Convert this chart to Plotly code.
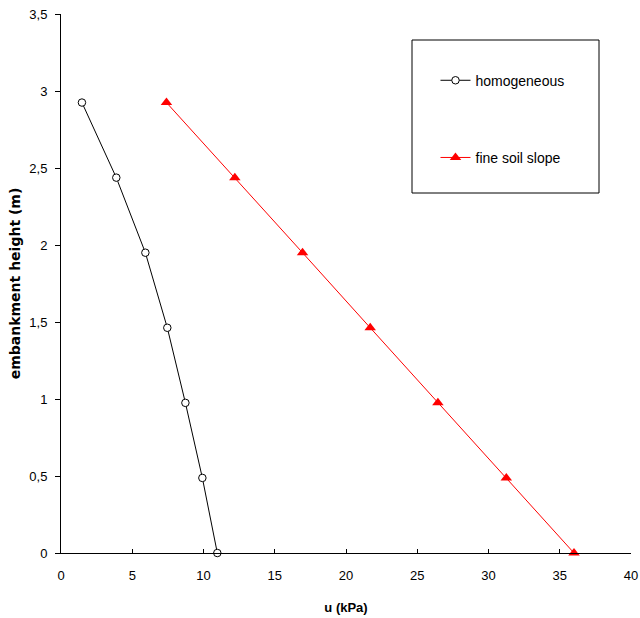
import plotly.graph_objects as go

height_m = [2.925, 2.4375, 1.95, 1.4625, 0.975, 0.4875, 0.0]
u_homogeneous = [1.47, 3.88, 5.92, 7.46, 8.73, 9.92, 10.97]
u_fine_soil_slope = [7.4, 12.2, 16.95, 21.7, 26.45, 31.25, 36.0]

x_ticks = [0, 5, 10, 15, 20, 25, 30, 35, 40]
y_ticks = [0, 0.5, 1, 1.5, 2, 2.5, 3, 3.5]
y_tick_labels = ["0", "0,5", "1", "1,5", "2", "2,5", "3", "3,5"]

FONT = "Liberation Sans, Arial, sans-serif"

fig = go.Figure()
fig.add_trace(go.Scatter(
    x=u_homogeneous, y=height_m, mode="lines+markers", name="homogeneous",
    legendgroup="a",
    line=dict(color="black", width=1),
    marker=dict(symbol="circle", size=7.5, color="white",
                line=dict(color="black", width=1)),
    cliponaxis=False,
))
fig.add_trace(go.Scatter(
    x=u_fine_soil_slope, y=height_m, mode="lines+markers", name="fine soil slope",
    legendgroup="b",
    line=dict(color="red", width=1),
    marker=dict(symbol="triangle-up", size=10, color="red",
                line=dict(color="red", width=0)),
    cliponaxis=False,
))

fig.update_layout(
    width=640, height=618,
    margin=dict(l=61, r=9, t=14, b=65),
    paper_bgcolor="white", plot_bgcolor="white",
    font=dict(family=FONT, size=12, color="black"),
    showlegend=True,
    legend=dict(x=0.657, y=0.906, xanchor="left", yanchor="top",
                bgcolor="rgba(0,0,0,0)", borderwidth=0,
                tracegroupgap=56, traceorder="grouped",
                font=dict(family=FONT, size=14, color="black")),
    xaxis=dict(range=[0, 40], tickvals=x_ticks, ticks="inside", ticklen=4,
               tickcolor="black", showline=True, linecolor="black", linewidth=1,
               showgrid=False, zeroline=False, mirror=False, automargin=False,
               ticklabelstandoff=10,
               title=dict(text="<b>u (kPa)</b>", font=dict(family=FONT, size=13), standoff=21),
               tickfont=dict(family=FONT, size=13)),
    yaxis=dict(range=[0, 3.5], tickvals=y_ticks, ticktext=y_tick_labels,
               ticks="outside", ticklen=5, tickcolor="black",
               showline=True, linecolor="black", linewidth=1,
               showgrid=False, zeroline=False, automargin=False,
               ticklabelstandoff=5,
               title=dict(text="<b>embankment height (m)</b>",
                          font=dict(family="DejaVu Sans, sans-serif", size=14), standoff=5),
               tickfont=dict(family=FONT, size=13)),
    shapes=[dict(type="rect", xref="paper", yref="paper",
                 x0=(412 - 61) / 570, x1=(599 - 61) / 570,
                 y0=(553 - 193) / 539, y1=(553 - 40) / 539,
                 line=dict(color="black", width=1), fillcolor="rgba(0,0,0,0)")],
)

fig.write_html("out.html", config={"displayModeBar": False},
               post_script="document.body.style.margin='0';document.body.style.overflow='hidden';")
